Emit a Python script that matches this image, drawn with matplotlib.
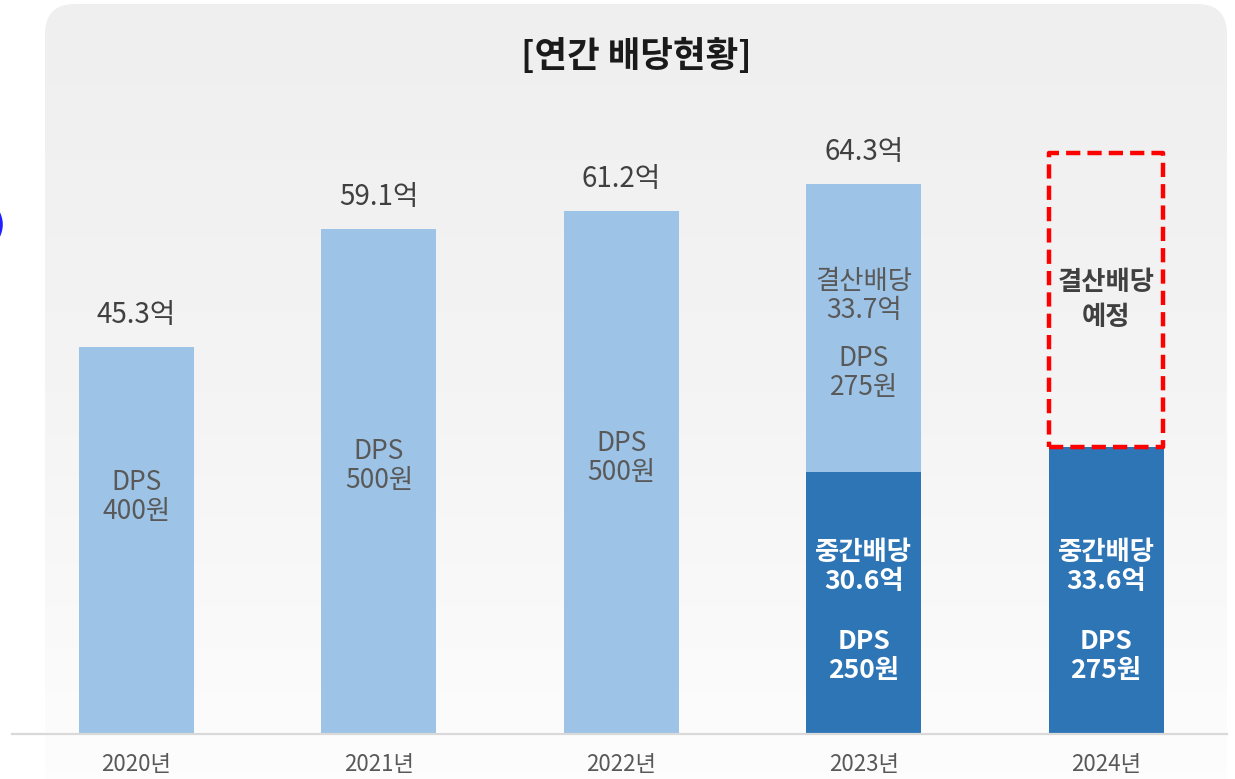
import numpy as np
import matplotlib
matplotlib.use("Agg")
import matplotlib.pyplot as plt
from matplotlib.patches import FancyBboxPatch
from matplotlib.colors import LinearSegmentedColormap

plt.rcParams['font.family'] = ['Noto Sans CJK KR', 'DejaVu Sans']

# ---------------- data ----------------
years = ['2020년', '2021년', '2022년', '2023년', '2024년']
interim = [0, 0, 0, 30.6, 33.6]            # 중간배당 (억)
final = [45.3, 59.1, 61.2, 33.7, 0]        # 결산배당 (억)
planned_final = [0, 0, 0, 0, 34.4]         # 결산배당 예정 (placeholder box)
totals = ['45.3억', '59.1억', '61.2억', '64.3억', None]
final_text = ['DPS\n400원', 'DPS\n500원', 'DPS\n500원', '결산배당\n33.7억', '결산배당\n예정']
final_dps = [None, None, None, 'DPS\n275원', None]
interim_text = [None, None, None, '중간배당\n30.6억', '중간배당\n33.6억']
interim_dps = [None, None, None, 'DPS\n250원', 'DPS\n275원']
title = '[연간 배당현황]'

LIGHT = '#9dc3e6'
DARK = '#2e75b6'
GRAY = '#595959'

W, H = 1235, 779
fig = plt.figure(figsize=(W / 100, H / 100), dpi=100)
fig.patch.set_facecolor('white')

# ---------------- background panel ----------------
bg = fig.add_axes([0, 0, 1, 1], zorder=-5)
bg.set_xlim(0, W)
bg.set_ylim(H, 0)
bg.axis('off')
cmap = LinearSegmentedColormap.from_list('g', ['#efefef', '#f4f4f4', '#fdfdfd'])
grad = np.linspace(0, 1, 256).reshape(-1, 1)
im = bg.imshow(grad, cmap=cmap, aspect='auto', extent=(45, 1227, 779, 4),
               interpolation='bilinear')
panel = FancyBboxPatch((45, 4), 1182, 820, boxstyle='round,pad=0,rounding_size=30',
                       transform=bg.transData, facecolor='none', edgecolor='none')
bg.add_patch(panel)
im.set_clip_path(panel)
bg.text(-9, 226, ')', color='#1f1fff', fontsize=28, va='center', ha='left',
        family=['DejaVu Sans'])

# ---------------- main axes ----------------
scale = 8.55        # px per unit
base_px = 734
spacing = 242.4
x0 = 136.5
left_px, right_px = 12, 1227
ax = fig.add_axes([left_px / W, (H - base_px) / H, (right_px - left_px) / W, (base_px - 4) / H])
ax.set_facecolor('none')
ax.set_xlim((left_px - x0) / spacing, (right_px - x0) / spacing)
ax.set_ylim(0, (base_px - 4) / scale)

x = np.arange(len(years))
bw = 115 / spacing

ax.bar(x, interim, width=bw, color=DARK, zorder=2)
ax.bar(x, final, width=bw, bottom=interim, color=LIGHT, zorder=2)
pidx = [i for i in range(len(years)) if planned_final[i] > 0]
ax.bar([x[i] for i in pidx], [planned_final[i] for i in pidx], width=bw * 0.99,
       bottom=[interim[i] for i in pidx], facecolor='none',
       edgecolor='#ff0000', linewidth=3.2, linestyle=(0, (3.2, 1.6)), zorder=3,
       joinstyle='round', capstyle='butt')

for sp in ['left', 'right', 'top']:
    ax.spines[sp].set_visible(False)
ax.spines['bottom'].set_color('#d9d9d9')
ax.spines['bottom'].set_linewidth(1.6)
ax.set_yticks([])
ax.set_xticks(x)
ax.set_xticklabels(years, fontsize=16, color=GRAY)
ax.tick_params(axis='x', length=0, pad=14)


def py(px):
    """convert a pixel row to data units"""
    return (base_px - px) / scale


lbl_fs = 20
in_fs = 19
ls = 1.12

for i in range(len(years)):
    top = interim[i] + final[i]
    if totals[i]:
        ax.annotate(totals[i], xy=(i, top), xytext=(0, 23), textcoords='offset points',
                    ha='center', va='center', fontsize=lbl_fs, color='#404040')

# inside-bar labels
ax.text(0, py(497), final_text[0], ha='center', va='center', fontsize=in_fs,
        color=GRAY, linespacing=ls)
ax.text(1, py(466), final_text[1], ha='center', va='center', fontsize=in_fs,
        color=GRAY, linespacing=ls)
ax.text(2, py(458), final_text[2], ha='center', va='center', fontsize=in_fs,
        color=GRAY, linespacing=ls)
ax.text(3, py(296), final_text[3], ha='center', va='center', fontsize=in_fs,
        color=GRAY, linespacing=ls)
ax.text(3, py(373), final_dps[3], ha='center', va='center', fontsize=in_fs,
        color=GRAY, linespacing=ls)
ax.text(4, py(300), final_text[4], ha='center', va='center', fontsize=in_fs,
        color='#404040', fontweight='bold', linespacing=1.35)
for i in (3, 4):
    ax.text(i, py(567), interim_text[i], ha='center', va='center', fontsize=in_fs,
            color='white', fontweight='bold', linespacing=ls)
    ax.text(i, py(656), interim_dps[i], ha='center', va='center', fontsize=in_fs,
            color='white', fontweight='bold', linespacing=ls)

fig.text(636 / W, 1 - 56 / H, title, ha='center', va='center', fontsize=25.5,
         fontweight='bold', color='#1a1a1a')

fig.savefig('out.png', dpi=100)
